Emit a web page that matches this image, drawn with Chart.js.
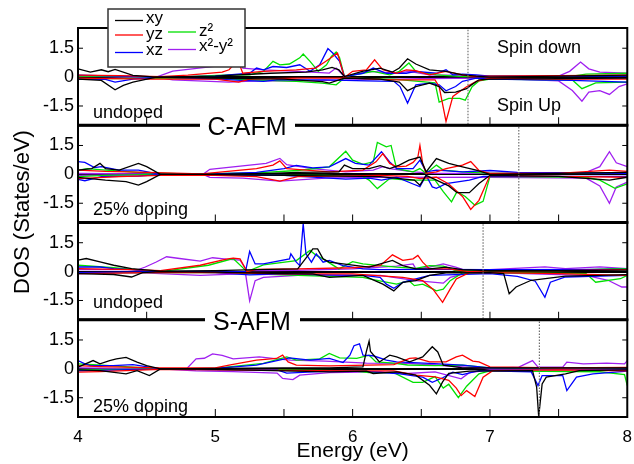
<!DOCTYPE html>
<html>
<head>
<meta charset="utf-8">
<script src="https://cdn.jsdelivr.net/npm/chart.js@4.4.1/dist/chart.umd.min.js"></script>
<style>
html, body { margin: 0; padding: 0; background: #fff; }
</style>
</head>
<body>
<canvas id="chart" width="634" height="464"></canvas>
<script>
'use strict';

// axes
var xTicks = [4, 5, 6, 7, 8];
var yTicks = [-1.5, 0, 1.5];
var orbitals = ['xy', 'yz', 'xz', 'z²', 'x²-y²'];
var fermiLevels = [6.84, 7.21, 6.95, 7.36];
var panelNotes = ['undoped', '25% doping', 'undoped', '25% doping'];

// C-AFM undoped  [energy, DOS]  (spin down > 0, spin up < 0)
var cuXyDn = [[4.0,0.43],[4.09,0.26],[4.17,0.38],[4.22,0.28],[4.27,0.4],[4.4,0.09],[4.57,0],[5.0,0.05],[5.4,0.2],[5.66,0.26],[5.78,0.38],[5.85,0.5],[5.9,0.38],[5.94,0.03],[6.07,0.3],[6.2,0.47],[6.29,0.26],[6.34,0.47],[6.4,0.95],[6.46,0.68],[6.56,0.38],[6.68,0.3],[6.8,0.12],[6.9,0.05],[7.0,0.0],[7.5,0.05],[8.0,0.1]];
var cuXyUp = [[4.0,-0.1],[4.17,-0.17],[4.27,-0.66],[4.33,-0.43],[4.4,-0.26],[4.57,0],[5.0,-0.05],[5.5,-0.1],[5.78,-0.23],[5.83,-0.31],[5.94,-0.05],[6.2,-0.1],[6.34,-0.26],[6.4,-0.7],[6.46,-0.49],[6.56,-0.31],[6.63,-0.49],[6.67,-0.8],[6.75,-0.78],[6.83,-0.6],[6.86,-0.43],[6.92,-0.14],[7.0,-0.1],[7.5,-0.08],[8.0,-0.05]];
var cuYzDn = [[4.0,0.1],[4.3,0.08],[4.6,0.02],[4.8,0.1],[5.05,0.26],[5.1,0.38],[5.165,0.87],[5.2,0.2],[5.35,0.3],[5.59,0.38],[5.73,0.47],[5.8,0.8],[5.855,1.07],[5.89,1.25],[5.94,-0.02],[6.0,0.3],[6.1,0.38],[6.16,0.9],[6.22,0.38],[6.32,0.2],[6.39,0.38],[6.46,0.33],[6.56,0.12],[6.68,0.3],[6.8,0.12],[6.88,0.03],[7.0,0.05],[7.5,0.08],[8.0,0.1]];
var cuYzUp = [[4.0,-0.05],[4.5,-0.1],[5.0,-0.1],[5.17,-0.26],[5.25,-0.1],[5.6,-0.05],[6.0,-0.05],[6.3,-0.14],[6.6,-0.14],[6.63,-0.5],[6.68,-2.3],[6.73,-1.0],[6.78,-0.75],[6.83,-0.5],[6.9,-0.22],[7.0,-0.05],[7.5,-0.1],[8.0,-0.1]];
var cuXzDn = [[4.0,0.1],[4.3,0.05],[4.6,0.0],[5.0,0.05],[5.1,0.12],[5.25,0.2],[5.3,0.47],[5.35,0.38],[5.42,0.55],[5.52,0.5],[5.615,0.64],[5.69,0.3],[5.76,0.64],[5.82,1.48],[5.855,1.25],[5.905,0.82],[5.94,0.03],[6.075,0.2],[6.15,0.47],[6.245,0.2],[6.39,0.2],[6.46,0.3],[6.61,0.2],[6.68,0.38],[6.73,0.12],[6.8,0.15],[6.9,0.12],[7.0,0.05],[8.0,0.05]];
var cuXzUp = [[4.0,-0.1],[4.2,-0.12],[4.27,-0.26],[4.4,-0.1],[4.6,0],[5.0,-0.1],[5.35,-0.22],[5.45,-0.14],[5.8,-0.14],[6.1,-0.2],[6.3,-0.22],[6.345,-0.49],[6.4,-1.35],[6.46,-0.4],[6.56,-0.31],[6.63,-0.4],[6.68,-0.71],[6.75,-0.49],[6.8,-0.22],[6.9,-0.05],[7.0,-0.1],[7.6,-0.17],[8.0,-0.26]];
var cuZ2Dn = [[4.0,0.05],[4.5,0.03],[4.8,0.02],[5.1,0.12],[5.25,0.12],[5.35,0.3],[5.42,0.82],[5.47,0.64],[5.54,0.68],[5.615,1.0],[5.64,1.2],[5.69,0.82],[5.75,0.3],[5.81,0.64],[5.845,1.07],[5.88,1.3],[5.905,1.0],[5.94,0.03],[6.075,0.2],[6.15,0.3],[6.27,0.12],[6.34,0.3],[6.41,0.73],[6.46,0.3],[6.61,0.12],[6.8,0.03],[7.0,0.05],[7.6,0.05],[7.7,0.15],[8.0,0.2]];
var cuZ2Up = [[4.0,-0.1],[4.5,-0.05],[5.0,-0.08],[5.59,-0.22],[5.78,-0.31],[5.88,-0.4],[5.94,-0.05],[6.3,-0.1],[6.6,-0.3],[6.63,-1.3],[6.7,-1.1],[6.78,-1.1],[6.82,-1.2],[6.87,-0.5],[6.92,-0.2],[7.0,-0.1],[7.6,-0.15],[7.67,-0.6],[7.77,-0.3],[8.0,-0.26]];
var cuX2y2Dn = [[4.0,0.05],[4.4,0.02],[4.57,0],[4.69,0.31],[5.1,0.65],[5.165,0.9],[5.2,0.47],[5.35,0.38],[5.6,0.3],[5.83,0.21],[5.88,0.47],[5.94,0.03],[6.12,0.3],[6.32,0.21],[6.41,0.3],[6.56,0.12],[6.8,0.09],[7.0,0.05],[7.5,0.05],[7.58,0.3],[7.66,0.78],[7.72,0.43],[7.8,0.26],[8.0,0.2]];
var cuX2y2Up = [[4.0,-0.1],[4.57,0],[4.69,-0.14],[5.1,-0.26],[5.3,-0.2],[5.6,-0.2],[6.0,-0.14],[6.5,-0.08],[7.0,-0.05],[7.5,-0.2],[7.6,-0.7],[7.67,-1.25],[7.72,-0.78],[7.8,-0.7],[7.87,-0.9],[7.94,-0.49],[8.0,-0.35]];

// C-AFM 25% doping
var cdXyDn = [[4.0,0.22],[4.1,0.3],[4.16,0.57],[4.2,0.3],[4.3,0.22],[4.44,0.57],[4.5,0.4],[4.6,0],[4.9,0],[5.4,0.05],[5.6,0.1],[5.9,0.13],[5.94,0.48],[6.0,0.3],[6.12,0.3],[6.2,0.45],[6.27,0.3],[6.34,0.48],[6.41,0.74],[6.49,0.9],[6.535,0.13],[6.61,0.82],[6.7,0.57],[6.8,0.39],[6.9,0.22],[7.0,0.0],[7.5,0.05],[8.0,0.1]];
var cdXyUp = [[4.0,-0.16],[4.2,-0.3],[4.35,-0.38],[4.44,-0.56],[4.5,-0.38],[4.6,0],[4.9,0],[5.5,-0.05],[6.2,-0.12],[6.45,-0.3],[6.49,-0.56],[6.535,-0.05],[6.61,-0.3],[6.7,-0.6],[6.76,-0.95],[6.85,-0.95],[6.92,-0.48],[7.0,-0.05],[7.5,-0.1],[7.87,-0.3],[8.0,-0.15]];
var cdYzDn = [[4.0,0.22],[4.2,0.15],[4.5,0.1],[4.9,0.02],[5.3,0.3],[5.42,0.48],[5.47,0.7],[5.52,0.3],[5.83,0.13],[6.075,0.22],[6.17,0.65],[6.22,1.08],[6.27,0.57],[6.32,0.39],[6.39,0.43],[6.44,0.62],[6.475,0.9],[6.49,1.5],[6.51,0.57],[6.535,0.05],[6.61,0.13],[6.68,0.3],[6.8,0.48],[6.86,0.66],[6.92,0.2],[7.0,0.05],[7.5,0.05],[7.87,0.22],[8.0,0.15]];
var cdYzUp = [[4.0,-0.22],[4.3,-0.12],[4.6,-0.05],[5.0,-0.05],[5.3,-0.12],[5.47,-0.35],[5.6,-0.12],[6.2,-0.05],[6.4,-0.1],[6.49,-0.22],[6.61,-0.15],[6.7,-0.5],[6.8,-1.15],[6.86,-1.82],[6.92,-1.35],[7.0,-0.05],[7.5,-0.1],[8.0,-0.15]];
var cdXzDn = [[4.0,0.66],[4.05,0.62],[4.12,0.35],[4.17,0.4],[4.3,0.22],[4.44,0.22],[4.6,0],[5.0,0.02],[5.3,0.1],[5.5,0.3],[5.59,0.47],[5.71,0.34],[5.83,0.39],[5.95,0.82],[6.02,0.57],[6.12,0.48],[6.21,1.17],[6.27,0.65],[6.32,0.3],[6.44,0.3],[6.49,0.74],[6.535,0.13],[6.61,0.22],[6.8,0.13],[7.0,0.2],[7.2,0.1],[8.0,0.05]];
var cdXzUp = [[4.0,-0.26],[4.05,-0.33],[4.17,-0.12],[4.44,-0.09],[4.6,0],[5.0,-0.03],[5.5,-0.05],[5.95,-0.25],[6.12,-0.2],[6.21,-0.3],[6.32,-0.15],[6.44,-0.5],[6.49,-0.64],[6.535,-0.05],[6.58,-0.65],[6.61,-0.73],[6.68,-0.48],[6.85,-0.3],[6.95,-0.1],[7.0,-0.1],[8.0,-0.1]];
var cdZ2Dn = [[4.0,0.22],[4.07,0.3],[4.2,0.22],[4.5,0.08],[4.8,0.02],[5.3,0.08],[5.6,0.2],[5.83,0.39],[5.95,1.2],[6.0,0.74],[6.075,0.52],[6.15,0.65],[6.18,1.66],[6.245,1.43],[6.28,1.5],[6.32,0.3],[6.44,0.13],[6.49,0.3],[6.535,0.05],[6.61,0.48],[6.66,0.22],[6.8,0.13],[7.0,0.05],[7.5,0.05],[8.0,0.1]];
var cdZ2Up = [[4.0,-0.12],[4.2,-0.05],[4.6,0],[5.0,-0.05],[5.8,-0.05],[6.07,-0.1],[6.12,-0.3],[6.18,-0.74],[6.27,-0.22],[6.4,-0.3],[6.6,-0.3],[6.66,-0.9],[6.72,-1.43],[6.76,-0.9],[6.82,-1.15],[6.89,-1.6],[6.95,-1.4],[7.0,-0.1],[7.7,-0.15],[7.8,-0.3],[7.91,-0.73],[8.0,-0.5]];
var cdX2y2Dn = [[4.0,0.05],[4.5,0.02],[4.91,0],[4.96,0.26],[5.37,0.57],[5.47,0.83],[5.52,0.5],[5.71,0.3],[5.95,0.13],[6.15,0.22],[6.22,0.4],[6.27,0.3],[6.44,0.13],[6.6,0.05],[7.0,0.05],[7.7,0.1],[7.8,0.4],[7.87,1.18],[7.92,0.6],[8.0,0.4]];
var cdX2y2Up = [[4.0,-0.05],[4.91,0],[4.96,-0.16],[5.2,-0.2],[5.47,-0.35],[5.83,-0.18],[6.4,-0.14],[6.6,-0.16],[7.0,-0.15],[7.7,-0.2],[7.8,-0.6],[7.87,-1.5],[7.92,-0.65],[8.0,-0.4]];

// S-AFM undoped
var suXyDn = [[4.0,0.6],[4.06,0.68],[4.16,0.5],[4.26,0.33],[4.39,0.16],[4.47,0.1],[4.6,0.02],[5.0,0.05],[5.3,0.1],[5.6,0.14],[5.685,0.93],[5.71,1.18],[5.745,1.18],[5.785,0.66],[5.83,0.49],[5.93,0.4],[6.03,0.31],[6.12,0.23],[6.29,0.58],[6.365,0.31],[6.46,0.14],[6.56,0.14],[6.68,0.23],[6.8,0.1],[7.0,0.05],[7.5,0.05],[8.0,0.08]];
var suXyUp = [[4.0,-0.1],[4.26,-0.15],[4.39,-0.28],[4.47,-0.05],[4.6,0],[5.0,-0.03],[5.5,-0.1],[5.71,-0.12],[5.83,-0.3],[6.075,-0.2],[6.22,-0.65],[6.3,-1.0],[6.365,-0.56],[6.46,-0.47],[6.56,-0.2],[6.68,-0.07],[7.0,-0.05],[7.1,-0.1],[7.14,-1.15],[7.19,-0.8],[7.3,-0.45],[7.55,-0.23],[7.8,-0.2],[8.0,-0.16]];
var suYzDn = [[4.0,0.16],[4.4,0.1],[4.6,0.05],[4.89,0.33],[5.08,0.65],[5.13,0.7],[5.18,0.66],[5.23,0.0],[5.3,0.12],[5.6,0.14],[6.0,0.2],[6.2,0.31],[6.29,0.87],[6.365,0.58],[6.44,0.66],[6.475,0.84],[6.51,0.49],[6.56,0.14],[6.7,0.14],[6.85,0.0],[7.0,0.05],[7.5,0.05],[8.0,0.1]];
var suYzUp = [[4.0,-0.1],[4.5,-0.05],[5.0,-0.05],[5.23,-0.08],[5.5,-0.12],[6.0,-0.12],[6.365,-0.3],[6.51,-0.47],[6.585,-0.91],[6.655,-1.6],[6.71,-0.91],[6.755,-0.38],[6.85,-0.05],[7.0,-0.05],[7.5,-0.1],[8.0,-0.2]];
var suXzDn = [[4.0,0.24],[4.16,0.24],[4.26,0.16],[4.39,0.1],[4.5,0.03],[4.6,0],[5.0,0.02],[5.22,0.0],[5.25,1.05],[5.29,0.4],[5.35,0.4],[5.54,0.66],[5.55,0.92],[5.59,0.49],[5.615,0.31],[5.64,2.5],[5.66,0.92],[5.7,0.49],[5.735,0.92],[5.785,0.49],[5.83,0.58],[5.93,0.31],[6.075,0.14],[6.2,0.1],[6.5,0.12],[7.0,0.1],[8.0,0.12]];
var suXzUp = [[4.0,-0.05],[4.6,0],[5.0,-0.05],[5.25,-0.17],[5.5,-0.12],[5.83,-0.17],[6.075,-0.2],[6.2,-0.3],[6.245,-0.65],[6.3,-0.87],[6.365,-0.56],[6.46,-0.38],[6.56,-0.2],[7.0,-0.1],[7.2,-0.25],[7.33,-0.5],[7.4,-1.33],[7.44,-0.55],[7.55,-0.28],[7.8,-0.23],[8.0,-0.2]];
var suZ2Dn = [[4.0,0.33],[4.26,0.2],[4.5,0.05],[4.6,0],[4.95,0.33],[5.13,0.68],[5.23,0.0],[5.35,0.35],[5.59,0.57],[5.69,1.1],[5.735,0.84],[5.785,0.66],[5.9,0.14],[6.0,0.52],[6.075,0.4],[6.2,0.31],[6.32,0.23],[6.46,0.17],[6.56,0.31],[6.66,0.28],[6.75,0.05],[7.0,0.05],[7.5,0.05],[7.9,0.15],[8.0,0.15]];
var suZ2Up = [[4.0,-0.05],[4.5,-0.05],[5.0,-0.05],[5.6,-0.2],[6.075,-0.3],[6.15,-0.42],[6.32,-0.65],[6.41,-0.47],[6.45,-0.73],[6.51,-0.65],[6.56,-0.82],[6.61,-1.0],[6.66,-0.91],[6.71,-0.47],[6.8,-0.07],[7.0,-0.05],[7.7,-0.1],[7.77,-0.55],[7.95,-0.37],[8.0,-0.2]];
var suX2y2Dn = [[4.0,0.1],[4.44,0.1],[4.49,0.24],[4.57,0.5],[4.645,0.77],[4.74,0.68],[4.89,0.54],[4.98,0.72],[5.08,0.65],[5.18,0.6],[5.23,0.05],[5.3,0.05],[5.6,0.07],[6.0,0.14],[6.32,0.28],[6.44,0.4],[6.46,0.14],[6.56,0.23],[6.66,0.4],[6.75,0.23],[6.85,0.0],[7.0,0.1],[7.4,0.25],[7.55,0.16],[7.8,0.25],[8.0,0.16]];
var suX2y2Up = [[4.0,-0.1],[4.44,-0.05],[4.6,-0.1],[4.89,-0.2],[5.18,-0.12],[5.22,-0.1],[5.25,-1.52],[5.29,-0.47],[5.35,-0.3],[5.6,-0.2],[6.2,-0.2],[6.46,-0.47],[6.66,-0.6],[6.71,-0.3],[6.85,-0.05],[7.0,-0.05],[7.7,-0.2],[7.86,-0.45],[7.96,-0.8],[8.0,-0.8]];

// S-AFM 25% doping
var sdXyDn = [[4.0,0.09],[4.11,0.43],[4.16,0.26],[4.23,0.43],[4.28,0.52],[4.35,0.6],[4.43,0.35],[4.5,0.17],[4.6,0],[5.0,0.02],[5.5,0.05],[5.83,0.05],[6.075,0.1],[6.1,0.9],[6.12,1.44],[6.13,0.9],[6.195,0.36],[6.27,0.71],[6.32,0.62],[6.415,0.36],[6.51,0.62],[6.58,1.15],[6.62,0.88],[6.66,0.19],[6.8,0.05],[7.0,0.05],[7.5,0.05],[8.0,0.05]];
var sdXyUp = [[4.0,-0.05],[4.16,-0.09],[4.35,-0.26],[4.43,-0.09],[4.52,-0.35],[4.6,0],[5.0,-0.03],[5.5,-0.1],[5.83,-0.16],[6.1,-0.12],[6.15,-0.24],[6.32,-0.16],[6.46,-0.33],[6.56,-0.85],[6.61,-1.3],[6.655,-0.68],[6.7,-0.24],[6.85,-0.12],[7.0,-0.1],[7.31,-0.09],[7.34,-0.95],[7.355,-2.48],[7.38,-0.78],[7.41,-0.43],[7.55,-0.26],[7.65,-0.09],[8.0,-0.05]];
var sdYzDn = [[4.0,0.17],[4.16,0.12],[4.6,0.05],[5.0,0.05],[5.1,0.19],[5.3,0.45],[5.445,0.54],[5.49,0.71],[5.53,0.36],[5.59,0.19],[5.83,0.16],[6.3,0.22],[6.415,0.54],[6.46,0.57],[6.56,0.36],[6.68,0.36],[6.755,0.62],[6.8,0.71],[6.875,0.4],[6.92,0.36],[7.0,0.1],[7.5,0.05],[8.0,0.08]];
var sdYzUp = [[4.0,-0.17],[4.16,-0.14],[4.3,-0.1],[4.6,-0.03],[5.0,-0.05],[5.5,-0.08],[6.0,-0.1],[6.3,-0.1],[6.46,-0.33],[6.6,-0.42],[6.7,-0.6],[6.755,-1.0],[6.79,-1.39],[6.83,-1.13],[6.89,-1.44],[6.95,-0.43],[7.02,-0.09],[7.5,-0.05],[8.0,-0.1]];
var sdXzDn = [[4.0,0.43],[4.05,0.26],[4.09,0.17],[4.255,0.17],[4.4,0.22],[4.6,0],[5.0,0.03],[5.3,0.19],[5.54,0.57],[5.69,0.45],[5.83,0.54],[5.93,0.33],[5.98,0.71],[6.01,1.2],[6.05,1.3],[6.075,0.71],[6.15,0.68],[6.245,0.45],[6.32,0.36],[6.56,0.28],[6.8,0.19],[7.0,0.05],[7.5,0.05],[8.0,0.05]];
var sdXzUp = [[4.0,-0.1],[4.6,0],[5.0,-0.05],[5.45,-0.05],[5.52,-0.22],[5.83,-0.12],[6.075,-0.12],[6.32,-0.24],[6.51,-0.43],[6.58,-0.7],[6.66,-0.45],[6.73,-0.17],[6.8,-0.3],[6.92,-0.09],[7.0,-0.1],[7.3,-0.15],[7.35,-0.87],[7.38,-0.35],[7.53,-0.35],[7.56,-1.13],[7.63,-0.43],[7.75,-0.26],[8.0,-0.12]];
var sdZ2Dn = [[4.0,0.26],[4.11,0.22],[4.23,0.17],[4.4,0.09],[4.6,0],[5.0,0.02],[5.1,0.1],[5.35,0.28],[5.52,0.62],[5.59,0.45],[5.76,0.52],[5.83,0.8],[5.905,0.57],[6.03,0.54],[6.12,0.71],[6.17,0.36],[6.3,0.3],[6.4,0.2],[6.6,0.17],[6.8,0.19],[7.0,0.05],[7.5,0.03],[8.0,0.05]];
var sdZ2Up = [[4.0,-0.05],[4.6,0],[5.0,-0.03],[5.5,-0.05],[6.0,-0.1],[6.12,-0.19],[6.3,-0.2],[6.44,-0.7],[6.51,-0.7],[6.6,-0.4],[6.66,-1.0],[6.7,-0.8],[6.77,-1.5],[6.83,-0.9],[6.92,-0.26],[7.0,-0.1],[7.8,-0.15],[7.98,-0.3],[8.0,-0.87]];
var sdX2y2Dn = [[4.0,0.05],[4.6,0],[4.79,0.0],[4.86,0.52],[4.92,0.55],[4.98,0.78],[5.05,0.7],[5.13,0.52],[5.32,0.62],[5.45,0.52],[5.55,0.45],[5.8,0.4],[6.1,0.3],[6.4,0.28],[6.6,0.2],[6.8,0.1],[7.0,0.02],[7.21,0.09],[7.31,0.43],[7.35,0.09],[7.53,0.09],[7.56,0.35],[7.68,0.26],[7.85,0.3],[7.98,0.26],[8.0,0.43]];
var sdX2y2Up = [[4.0,-0.05],[4.6,0],[4.86,-0.1],[5.13,-0.14],[5.45,-0.22],[5.49,-0.5],[5.565,-0.56],[5.615,-0.33],[5.83,-0.2],[6.2,-0.16],[6.4,-0.24],[6.6,-0.16],[6.79,-0.52],[6.85,-0.2],[7.0,-0.05],[8.0,-0.05]];

var orbitalColors = ['#000000', '#ff0000', '#0000ff', '#00e000', '#a020f0'];
var FONT = '"Liberation Sans", Arial, Helvetica, sans-serif';

var panels = [
    { id: 'p1', down: [cuXyDn, cuYzDn, cuXzDn, cuZ2Dn, cuX2y2Dn], up: [cuXyUp, cuYzUp, cuXzUp, cuZ2Up, cuX2y2Up] },
    { id: 'p2', down: [cdXyDn, cdYzDn, cdXzDn, cdZ2Dn, cdX2y2Dn], up: [cdXyUp, cdYzUp, cdXzUp, cdZ2Up, cdX2y2Up] },
    { id: 'p3', down: [suXyDn, suYzDn, suXzDn, suZ2Dn, suX2y2Dn], up: [suXyUp, suYzUp, suXzUp, suZ2Up, suX2y2Up] },
    { id: 'p4', down: [sdXyDn, sdYzDn, sdXzDn, sdZ2Dn, sdX2y2Dn], up: [sdXyUp, sdYzUp, sdXzUp, sdZ2Up, sdX2y2Up] }
];

var datasets = [];
panels.forEach(function (p, i) {
    datasets.push({
        label: 'EF',
        data: [{ x: fermiLevels[i], y: -2.6 }, { x: fermiLevels[i], y: 2.6 }],
        yAxisID: p.id, borderColor: '#707070', borderWidth: 1.2, borderDash: [1.5, 1.5], pointRadius: 0
    });
    orbitals.forEach(function (name, k) {
        [p.down[k], p.up[k]].forEach(function (arr) {
            datasets.push({
                label: name,
                data: arr.map(function (d) { return { x: d[0], y: d[1] }; }),
                yAxisID: p.id,
                borderColor: orbitalColors[k],
                borderWidth: 1.3,
                pointRadius: 0,
                tension: 0,
                fill: false
            });
        });
    });
});

var scales = {
    x: {
        type: 'linear', position: 'bottom', min: 4, max: 8,
        afterBuildTicks: function (s) { s.ticks = xTicks.map(function (v) { return { value: v }; }); },
        afterFit: function (s) { s.height = 47; },
        ticks: { color: '#000', font: { size: 17, family: FONT }, padding: 2, maxRotation: 0 },
        grid: { display: false },
        border: { display: false },
        title: { display: true, text: 'Energy (eV)', color: '#000', font: { size: 21, family: FONT }, padding: 0 }
    }
};
// stacked axes are laid out from the last one defined, so add them bottom first
panels.slice().reverse().forEach(function (p) {
    scales[p.id] = {
        type: 'linear', position: 'left', stack: 'dos', stackWeight: 1,
        min: -2.5, max: 2.55, z: 1,
        afterBuildTicks: function (s) { s.ticks = yTicks.map(function (v) { return { value: v }; }); },
        afterFit: function (s) { s.width = 78; },
        ticks: { color: '#000', font: { size: 18, family: FONT }, padding: 4, callback: function (v) { return String(v); } },
        grid: {
            drawTicks: false, lineWidth: 2,
            color: function (c) { return c.tick && c.tick.value === 0 ? '#000' : 'rgba(0,0,0,0)'; }
        },
        border: { display: false }
    };
});

var decor = {
    id: 'decor',
    afterDraw: function (chart) {
        var ctx = chart.ctx, a = chart.chartArea, xs = chart.scales.x;
        function seg(x1, y1, x2, y2) { ctx.beginPath(); ctx.moveTo(x1, y1); ctx.lineTo(x2, y2); ctx.stroke(); }
        var noteDy = [12, 12, 17, 10];
        ctx.save();
        ctx.strokeStyle = '#000';
        ctx.fillStyle = '#000';
        panels.forEach(function (p, i) {
            var s = chart.scales[p.id];
            ctx.lineWidth = 1;
            [-1.5, 1.5].forEach(function (v) {
                var y = s.getPixelForValue(v);
                seg(a.left, y, a.left + 5, y);
                seg(a.right, y, a.right - 5, y);
            });
            for (var e = 4.5; e < 8; e += 0.5) {
                var x = xs.getPixelForValue(e);
                seg(x, s.bottom, x, s.bottom - 8);
            }
            ctx.lineWidth = 2;
            ctx.strokeRect(a.left, s.top, a.right - a.left, s.bottom - s.top);
            ctx.font = '18px ' + FONT;
            ctx.textAlign = 'left';
            ctx.textBaseline = 'middle';
            ctx.fillText(panelNotes[i], 93, s.bottom - noteDy[i]);
        });
        ctx.lineWidth = 3;
        [1, 2, 3].forEach(function (i) {
            var y = chart.scales[panels[i].id].top;
            seg(a.left - 1, y, a.right + 1, y);
        });

        ctx.font = '18px ' + FONT;
        ctx.fillText('Spin down', 497, 48);
        ctx.fillText('Spin Up', 497, 106);

        // magnetic order labels on the panel boundaries
        ctx.font = '25px ' + FONT;
        ctx.textAlign = 'center';
        [[panels[1].id, 'C-AFM', 247, 200, 295], [panels[3].id, 'S-AFM', 252, 205, 300]].forEach(function (m) {
            var y = chart.scales[m[0]].top;
            ctx.fillStyle = '#fff';
            ctx.fillRect(m[3], y - 8, m[4] - m[3], 16);
            ctx.fillStyle = '#000';
            ctx.fillText(m[1], m[2], y + 3);
        });

        // legend
        ctx.fillStyle = '#fff';
        ctx.fillRect(108, 9, 137, 58);
        ctx.strokeStyle = '#333';
        ctx.lineWidth = 1.5;
        ctx.strokeRect(108, 9, 137, 58);
        var items = [[115, 20.5, 23], [115, 35, 38.5], [115, 52.5, 55], [168, 32, 35.5], [168, 49.5, 51]];
        ctx.font = '17px ' + FONT;
        ctx.textAlign = 'left';
        ctx.textBaseline = 'alphabetic';
        items.forEach(function (it, k) {
            ctx.strokeStyle = orbitalColors[k];
            ctx.lineWidth = 1.3;
            seg(it[0], it[1], it[0] + 28, it[1]);
            ctx.fillStyle = '#000';
            ctx.fillText(orbitals[k], it[0] + 31, it[2]);
        });

        // y title
        ctx.save();
        ctx.translate(23, 212);
        ctx.rotate(-Math.PI / 2);
        ctx.font = '22px ' + FONT;
        ctx.textAlign = 'center';
        ctx.textBaseline = 'middle';
        ctx.fillText('DOS (States/eV)', 0, 0);
        ctx.restore();
        ctx.restore();
    }
};

var chart = new Chart(document.getElementById('chart').getContext('2d'), {
    type: 'line',
    data: { datasets: datasets },
    options: {
        responsive: false,
        animation: false,
        devicePixelRatio: 1,
        layout: { padding: { top: 28, right: 6, left: 0, bottom: 0 } },
        plugins: { legend: { display: false }, tooltip: { enabled: false } },
        scales: scales
    },
    plugins: [decor]
});
</script>
</body>
</html>
